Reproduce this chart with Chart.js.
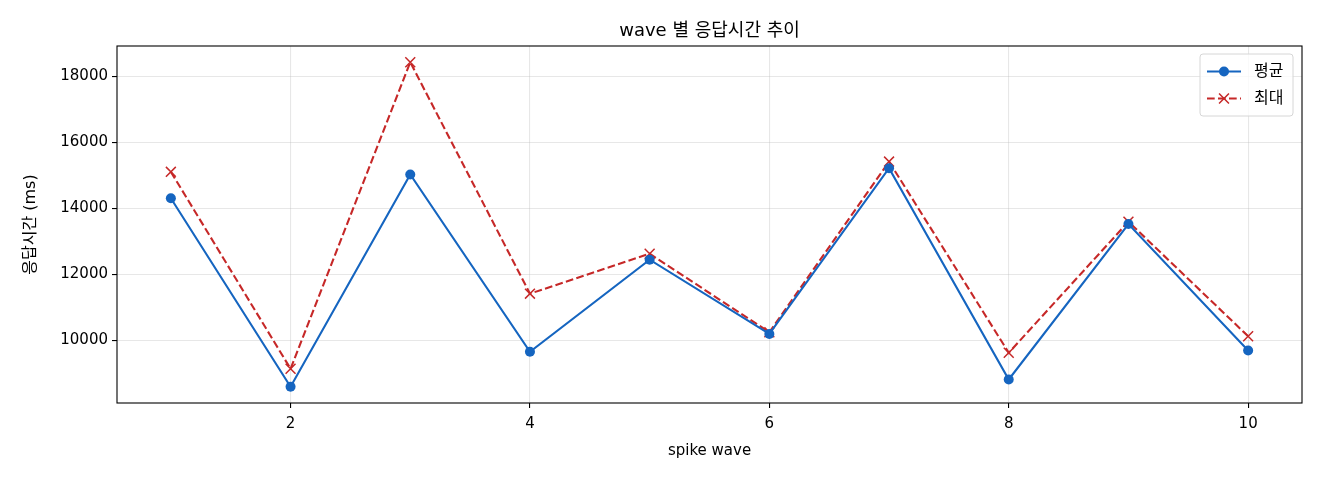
<!DOCTYPE html>
<html>
<head>
<meta charset="utf-8">
<script src="https://cdn.jsdelivr.net/npm/chart.js@4.4.1/dist/chart.umd.min.js"></script>
<style>
  html, body { margin: 0; padding: 0; background: #fff; }
  #wrap { width: 1320px; height: 480px; }
</style>
</head>
<body>
<div id="wrap"><canvas id="c" width="1320" height="480"></canvas></div>
<script>
// wave 번호와 응답시간 (ms)
const waves = [1, 2, 3, 4, 5, 6, 7, 8, 9, 10];
const avgMs = [14310, 8600, 15030, 9660, 12450, 10200, 15220, 8820, 13530, 9700];
const maxMs = [15110, 9145, 18430, 11420, 12630, 10250, 15420, 9630, 13600, 10130];
const xTicks = [2, 4, 6, 8, 10];
const yTicks = [10000, 12000, 14000, 16000, 18000];

const FONT = '"DejaVu Sans", "Noto Sans CJK KR", sans-serif';
const BLUE = '#1565C0', RED = '#C62828';

// matplotlib 식 5% 여백
const allY = avgMs.concat(maxMs);
const yLo = Math.min(...allY), yHi = Math.max(...allY);
const yPad = (yHi - yLo) * 0.05;
const xPad = (waves[waves.length - 1] - waves[0]) * 0.05;

const pts = arr => waves.map((w, i) => ({ x: w, y: arr[i] }));

// 테두리(spines) + 범례를 차트 영역 안에 그림
const frameAndLegend = {
  id: 'frameAndLegend',
  afterDatasetsDraw(chart) {
    const { ctx, chartArea: a } = chart;
    ctx.save();
    ctx.strokeStyle = '#000';
    ctx.lineWidth = 1.1;
    ctx.strokeRect(a.left, a.top, a.right - a.left, a.bottom - a.top);

    const bw = 93, bh = 62;
    const bx = a.right - 9 - bw, by = a.top + 8;
    ctx.beginPath();
    ctx.roundRect(bx, by, bw, bh, 3);
    ctx.fillStyle = 'rgba(255,255,255,0.8)';
    ctx.fill();
    ctx.strokeStyle = '#d6d6d6';
    ctx.lineWidth = 1;
    ctx.stroke();

    chart.data.datasets.forEach((ds, i) => {
      const cy = by + 17.5 + i * 27;
      const x0 = bx + 7, x1 = bx + 41, xm = (x0 + x1) / 2;
      ctx.beginPath();
      ctx.setLineDash(ds.borderDash || []);
      ctx.strokeStyle = ds.borderColor;
      ctx.lineWidth = ds.borderWidth;
      ctx.moveTo(x0, cy); ctx.lineTo(x1, cy);
      ctx.stroke();
      ctx.setLineDash([]);
      if (ds.pointStyle === 'circle') {
        ctx.beginPath();
        ctx.arc(xm, cy, ds.pointRadius, 0, Math.PI * 2);
        ctx.fillStyle = ds.pointBackgroundColor;
        ctx.fill();
      } else {
        const r = ds.pointRadius * Math.SQRT1_2;
        ctx.beginPath();
        ctx.lineWidth = ds.pointBorderWidth;
        ctx.moveTo(xm - r, cy - r); ctx.lineTo(xm + r, cy + r);
        ctx.moveTo(xm - r, cy + r); ctx.lineTo(xm + r, cy - r);
        ctx.stroke();
      }
      ctx.fillStyle = '#000';
      ctx.font = '16px ' + FONT;
      ctx.textBaseline = 'middle';
      ctx.textAlign = 'left';
      ctx.fillText(ds.label, bx + 54, cy);
    });
    ctx.restore();
  }
};

new Chart(document.getElementById('c'), {
  type: 'line',
  data: {
    datasets: [
      {
        label: '평균', data: pts(avgMs),
        borderColor: BLUE, backgroundColor: BLUE, borderWidth: 2.1,
        pointStyle: 'circle', pointRadius: 5, pointBackgroundColor: BLUE,
        pointBorderColor: BLUE, pointBorderWidth: 0, tension: 0
      },
      {
        label: '최대', data: pts(maxMs),
        borderColor: RED, backgroundColor: RED, borderWidth: 2.1, borderDash: [7.7, 3.3],
        pointStyle: 'crossRot', pointRadius: 7, pointBorderColor: RED,
        pointBackgroundColor: RED, pointBorderWidth: 1.5, tension: 0
      }
    ]
  },
  options: {
    responsive: false,
    animation: false,
    devicePixelRatio: 1,
    layout: { padding: { top: 0, right: 18, bottom: 0, left: 0 } },
    plugins: {
      legend: { display: false },
      tooltip: { enabled: false },
      title: {
        display: true, fullSize: false,
        text: 'wave 별 응답시간 추이',
        color: '#000',
        font: { family: FONT, size: 18, weight: 'normal' },
        padding: { top: 21, bottom: 3.4 }
      }
    },
    scales: {
      x: {
        type: 'linear',
        min: waves[0] - xPad, max: waves[waves.length - 1] + xPad,
        afterBuildTicks: s => { s.ticks = xTicks.map(v => ({ value: v })); },
        afterFit: s => { s.height = 77; },
        border: { display: false },
        grid: { color: 'rgba(176,176,176,0.3)', lineWidth: 1.1, tickColor: '#000', tickLength: 5, tickWidth: 1.1 },
        ticks: { color: '#000', font: { family: FONT, size: 15 }, padding: 7, maxRotation: 0 },
        title: { display: true, text: 'spike wave', color: '#000', font: { family: FONT, size: 15 }, padding: { top: 4, bottom: 20 } }
      },
      y: {
        min: yLo - yPad, max: yHi + yPad,
        afterBuildTicks: s => { s.ticks = yTicks.map(v => ({ value: v })); },
        afterFit: s => { s.width = 117; },
        border: { display: false },
        grid: { color: 'rgba(176,176,176,0.3)', lineWidth: 1.1, tickColor: '#000', tickLength: 5, tickWidth: 1.1 },
        ticks: { color: '#000', font: { family: FONT, size: 15 }, padding: 4, callback: v => String(v) },
        title: { display: true, text: '응답시간 (ms)', color: '#000', font: { family: FONT, size: 16 }, padding: { top: 21, bottom: 4 } }
      }
    }
  },
  plugins: [frameAndLegend]
});
</script>
</body>
</html>
